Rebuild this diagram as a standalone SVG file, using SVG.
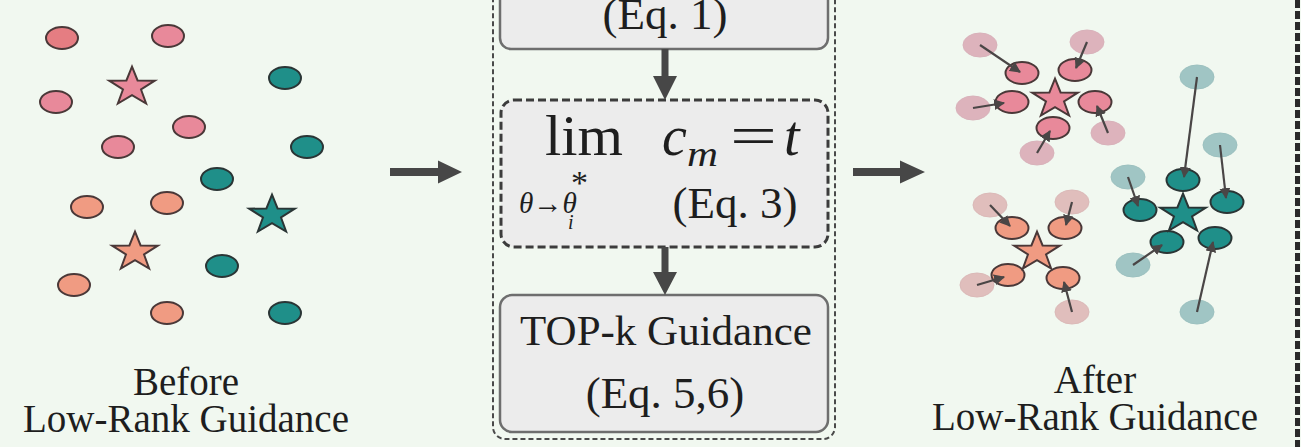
<svg xmlns="http://www.w3.org/2000/svg" width="1301" height="447" viewBox="0 0 1301 447" font-family="'Liberation Serif', serif">
<style>
text{font-family:'Liberation Serif',serif;fill:#1e1e1e}
.lbl{font-size:39px;text-anchor:middle}
.eq{font-size:45px;text-anchor:middle}
.it{font-style:italic}
.box{fill:#ececec;stroke:#6e6e6e;stroke-width:2.5}
.dbox{fill:#ececec;stroke:#3c3c3c;stroke-width:3;stroke-dasharray:8 4}
.outer{fill:none;stroke:#4a4a4a;stroke-width:2;stroke-dasharray:5 3}
.pk{fill:#e8899a;stroke:#4a3838;stroke-width:2}
.pk2{fill:#e57d82;stroke:#4a3838;stroke-width:2}
.tl{fill:#1f8f89;stroke:#2a3535;stroke-width:2}
.or{fill:#f09b82;stroke:#4a3838;stroke-width:2}
.pkf{fill:#d9a3b0;stroke:#d3a0ad;stroke-width:1;opacity:0.8}
.orf{fill:#dcb0b0;stroke:#d6aaaa;stroke-width:1;opacity:0.8}
.tlf{fill:#93bdbd;stroke:#8db7b7;stroke-width:1;opacity:0.85}
.mv{stroke:#4a4646;stroke-width:2.2;fill:none;marker-end:url(#sm)}
.arr{fill:#474747}
</style>
<defs>
<polygon id="star" points="0,-18.4 5.58,-4.54 22.83,-4.31 9.04,4.5 14.11,18.51 0,10.08 -14.11,18.51 -9.04,4.5 -22.83,-4.31 -5.58,-4.54"/>
<marker id="sm" viewBox="0 0 10 10" refX="9" refY="5" markerWidth="5" markerHeight="5" orient="auto"><path d="M0,0 L10,5 L0,10 z" fill="#4a4646"/></marker>
</defs>
<rect x="0" y="0" width="1301" height="447" fill="#f1f8f0"/>

<line x1="1297.5" y1="0" x2="1297.5" y2="447" stroke="#2a2a2a" stroke-width="5" stroke-dasharray="8 3"/>

<g id="before">
<ellipse class="pk2" cx="62" cy="38" rx="16" ry="11"/>
<ellipse class="pk" cx="168" cy="36" rx="16" ry="11"/>
<ellipse class="pk" cx="56" cy="102" rx="16" ry="11"/>
<ellipse class="pk" cx="189" cy="127" rx="16" ry="11"/>
<ellipse class="pk" cx="118" cy="147" rx="16" ry="11"/>
<use href="#star" x="132" y="85" class="pk"/>
<ellipse class="tl" cx="285" cy="78" rx="16" ry="11"/>
<ellipse class="tl" cx="307" cy="147" rx="16" ry="11"/>
<ellipse class="tl" cx="217" cy="179" rx="16" ry="11"/>
<ellipse class="tl" cx="222" cy="266" rx="16" ry="11"/>
<ellipse class="tl" cx="285" cy="313" rx="16" ry="11"/>
<use href="#star" x="272" y="213" class="tl"/>
<ellipse class="or" cx="87" cy="207" rx="16" ry="11"/>
<ellipse class="or" cx="167" cy="203" rx="16" ry="11"/>
<ellipse class="or" cx="74" cy="285" rx="16" ry="11"/>
<ellipse class="or" cx="167" cy="313" rx="16" ry="11"/>
<use href="#star" x="135" y="250" class="or"/>
<text class="lbl" x="186" y="395">Before</text>
<text class="lbl" x="186" y="432">Low-Rank Guidance</text>
</g>

<g id="pipeline">
<rect class="outer" x="493" y="-20" width="342" height="459" rx="12"/>
</g>
<g id="eq1">
<rect class="box" x="500" y="-20" width="328" height="69" rx="11"/>
<text class="eq" x="665" y="29">(Eq. 1)</text>
</g>
<g id="eq3">
<rect class="dbox" x="501" y="100" width="327" height="147" rx="13"/>
<text x="545" y="155" font-size="56" textLength="78" lengthAdjust="spacingAndGlyphs">lim</text>
<text class="it" x="662" y="155" font-size="56">c</text>
<text class="it" x="687" y="166" font-size="36" textLength="31" lengthAdjust="spacingAndGlyphs">m</text>
<text x="730" y="155" font-size="56" textLength="47" lengthAdjust="spacingAndGlyphs">=</text>
<text class="it" x="784" y="155" font-size="56">t</text>
<text class="it" x="519" y="213" font-size="30" textLength="58" lengthAdjust="spacingAndGlyphs">θ→θ</text>
<text x="571" y="194" font-size="34">*</text>
<text class="it" x="568" y="229" font-size="20">i</text>
<text class="eq" x="735" y="218">(Eq. 3)</text>
</g>
<g id="topk">
<rect class="box" x="500" y="295" width="328" height="137" rx="12"/>
<text x="666" y="345" font-size="43" text-anchor="middle">TOP-k Guidance</text>
<text class="eq" x="665" y="408" font-size="46">(Eq. 5,6)</text>
</g>

<g id="connectors">
<path class="arr" d="M661.5,49 H668.5 V76 H677 L665,100 L653,76 H661.5 Z"/>
<path class="arr" d="M661.5,247 H668.5 V272 H677 L665,295 L653,272 H661.5 Z"/>
<path class="arr" d="M390,168 H438 V160.5 L462,172 L438,183.5 V176 H390 Z"/>
<path class="arr" d="M853,168 H900 V160.5 L925,172 L900,183.5 V176 H853 Z"/>
</g>

<g id="after">
<ellipse class="pkf" cx="980" cy="45" rx="17" ry="12"/>
<ellipse class="pkf" cx="1087" cy="42" rx="17" ry="12"/>
<ellipse class="pkf" cx="973" cy="108" rx="17" ry="12"/>
<ellipse class="pkf" cx="1108" cy="133" rx="17" ry="12"/>
<ellipse class="pkf" cx="1037" cy="153" rx="17" ry="12"/>
<ellipse class="orf" cx="990" cy="205" rx="17" ry="12"/>
<ellipse class="orf" cx="1072" cy="202" rx="17" ry="12"/>
<ellipse class="orf" cx="977" cy="285" rx="17" ry="12"/>
<ellipse class="orf" cx="1072" cy="312" rx="17" ry="12"/>
<ellipse class="tlf" cx="1197" cy="77" rx="17" ry="12"/>
<ellipse class="tlf" cx="1128" cy="177" rx="17" ry="12"/>
<ellipse class="tlf" cx="1220" cy="145" rx="17" ry="12"/>
<ellipse class="tlf" cx="1133" cy="265" rx="17" ry="12"/>
<ellipse class="tlf" cx="1197" cy="312" rx="17" ry="12"/>
<ellipse class="pk" cx="1022" cy="73" rx="16.5" ry="11"/>
<ellipse class="pk" cx="1075" cy="70" rx="16.5" ry="11"/>
<ellipse class="pk" cx="1012" cy="102" rx="16.5" ry="11"/>
<ellipse class="pk" cx="1095" cy="102" rx="16.5" ry="11"/>
<ellipse class="pk" cx="1053" cy="128" rx="16.5" ry="11"/>
<use href="#star" x="1055" y="97" class="pk"/>
<ellipse class="or" cx="1012" cy="228" rx="16.5" ry="11"/>
<ellipse class="or" cx="1065" cy="228" rx="16.5" ry="11"/>
<ellipse class="or" cx="1008" cy="275" rx="16.5" ry="11"/>
<ellipse class="or" cx="1063" cy="278" rx="16.5" ry="11"/>
<use href="#star" x="1037" y="250" class="or"/>
<ellipse class="tl" cx="1183" cy="180" rx="16.5" ry="11"/>
<ellipse class="tl" cx="1140" cy="210" rx="16.5" ry="11"/>
<ellipse class="tl" cx="1227" cy="202" rx="16.5" ry="11"/>
<ellipse class="tl" cx="1167" cy="242" rx="16.5" ry="11"/>
<ellipse class="tl" cx="1215" cy="238" rx="16.5" ry="11"/>
<use href="#star" x="1183" y="212" class="tl"/>
<line class="mv" x1="980" y1="45" x2="1020" y2="72"/>
<line class="mv" x1="1087" y1="42" x2="1076" y2="68"/>
<line class="mv" x1="973" y1="108" x2="1004" y2="103"/>
<line class="mv" x1="1108" y1="133" x2="1097" y2="106"/>
<line class="mv" x1="1037" y1="153" x2="1050" y2="131"/>
<line class="mv" x1="990" y1="205" x2="1010" y2="226"/>
<line class="mv" x1="1072" y1="202" x2="1066" y2="225"/>
<line class="mv" x1="977" y1="285" x2="1004" y2="277"/>
<line class="mv" x1="1072" y1="312" x2="1064" y2="282"/>
<line class="mv" x1="1197" y1="77" x2="1184" y2="177"/>
<line class="mv" x1="1128" y1="177" x2="1138" y2="206"/>
<line class="mv" x1="1220" y1="145" x2="1226" y2="198"/>
<line class="mv" x1="1133" y1="265" x2="1162" y2="245"/>
<line class="mv" x1="1197" y1="312" x2="1213" y2="242"/>
<text class="lbl" x="1095" y="393">After</text>
<text class="lbl" x="1095" y="430">Low-Rank Guidance</text>
</g>
</svg>
